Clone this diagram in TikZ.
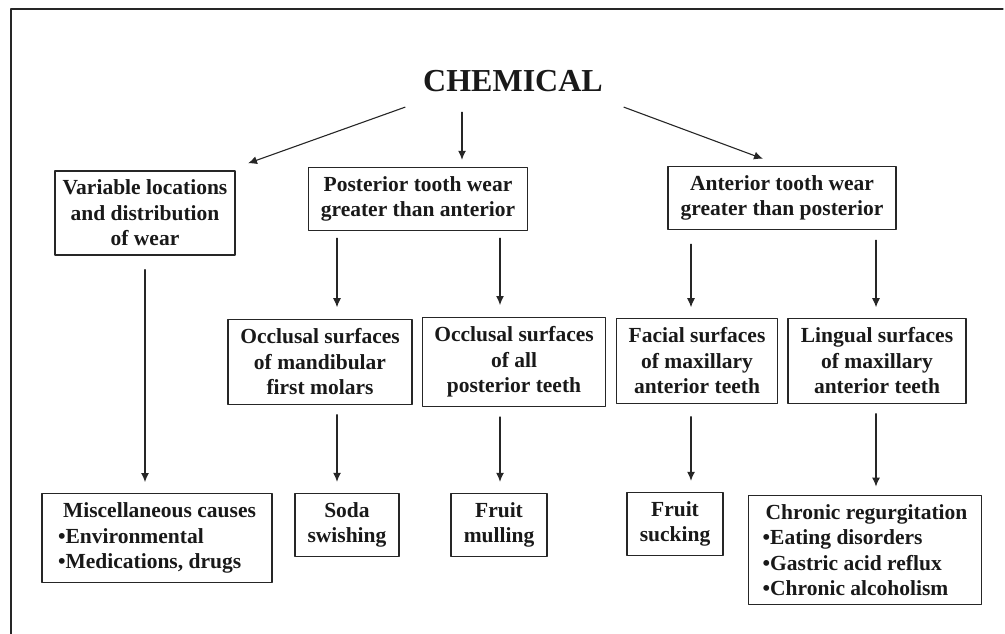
\documentclass[tikz,border=0pt]{standalone}
\usepackage{fontspec}
\setmainfont{Liberation Serif}
\usetikzlibrary{arrows.meta}
\begin{document}
\begin{tikzpicture}[x=1pt,y=1pt,line join=round,line cap=round,
	box/.style={draw=black!85,line width=1.2pt,align=center,inner xsep=3pt,inner ysep=9pt,text=black!90,font=\bfseries\fontsize{21.5}{25.5}\selectfont},
	arr/.style={-{Latex[length=9pt,width=8pt]},line width=1.1pt,black!85,shorten <=10pt,shorten >=11pt}]

	\useasboundingbox (0,0) rectangle (1005,634);

	% Khung ngoai
	\draw[line width=1.3pt,black!85] (11,0) -- (11,625) -- (1003,625);

	% Tieu de
	\node[inner sep=0pt,text height=22pt,text depth=0pt,text=black!90,font=\bfseries\fontsize{32}{36}\selectfont] (chem) at (513,553) {CHEMICAL};

	% Hang 1
	\node[box,minimum width=180pt] (var) at (145,421) {Variable locations\\and distribution\\of wear};
	\node[box,minimum width=219pt] (post) at (418,435) {Posterior tooth wear\\greater than anterior};
	\node[box,minimum width=228pt] (ant) at (782,436) {Anterior tooth wear\\greater than posterior};

	% Hang 2
	\node[box,minimum width=184pt] (occm) at (320,272) {Occlusal surfaces\\of mandibular\\first molars};
	\node[box,minimum width=183pt] (occa) at (514,272) {Occlusal surfaces\\of all\\posterior teeth};
	\node[box,minimum width=161pt] (fac) at (697,273) {Facial surfaces\\of maxillary\\anterior teeth};
	\node[box,minimum width=178pt] (lin) at (877,273) {Lingual surfaces\\of maxillary\\anterior teeth};

	% Hang 3
	\node[box,align=left,minimum width=230pt] (misc) at (157,96) {\hspace*{5pt}Miscellaneous causes\\•Environmental\\•Medications, drugs};
	\node[box,minimum width=104pt] (soda) at (347,109) {Soda\\swishing};
	\node[box,minimum width=96pt] (mull) at (499,109) {Fruit\\mulling};
	\node[box,minimum width=96pt] (suck) at (675,110) {Fruit\\sucking};
	\node[box,align=left,minimum width=233pt] (chron) at (865,84) {\hspace*{3pt}Chronic regurgitation\\•Eating disorders\\•Gastric acid reflux\\•Chronic alcoholism};

	% Cot cua cac mui ten thang dung
	\coordinate (k1) at (337,0);
	\coordinate (k2) at (500,0);
	\coordinate (k3) at (691,0);
	\coordinate (k4) at (876,0);

	% Mui ten tu tieu de
	\draw[arr,shorten <=0pt,shorten >=0pt] ([shift={(-18,-15)}]chem.south west) -- ([shift={(103,7)}]var.north);
	\draw[arr,shorten <=0pt,shorten >=0pt] ([shift={(-51,-20)}]chem.south) -- ([shift={(44,7)}]post.north);
	\draw[arr,shorten <=0pt,shorten >=0pt] ([shift={(21,-15)}]chem.south east) -- ([shift={(-19,7)}]ant.north);

	% Mui ten xuong
	\draw[arr,shorten <=14pt] (var.south) -- (var.south |- misc.north);
	\draw[arr,shorten <=7pt,shorten >=12pt] (post.south -| k1) -- (occm.north -| k1);
	\draw[arr,shorten <=7pt,shorten >=12pt] (post.south -| k2) -- (occa.north -| k2);
	\draw[arr,shorten <=14pt] (ant.south -| k3) -- (fac.north -| k3);
	\draw[arr] (ant.south -| k4) -- (lin.north -| k4);
	\draw[arr] (occm.south -| k1) -- (soda.north -| k1);
	\draw[arr] (occa.south -| k2) -- (mull.north -| k2);
	\draw[arr,shorten <=13pt] (fac.south -| k3) -- (suck.north -| k3);
	\draw[arr,shorten >=8pt] (lin.south -| k4) -- (chron.north -| k4);

\end{tikzpicture}
\end{document}
